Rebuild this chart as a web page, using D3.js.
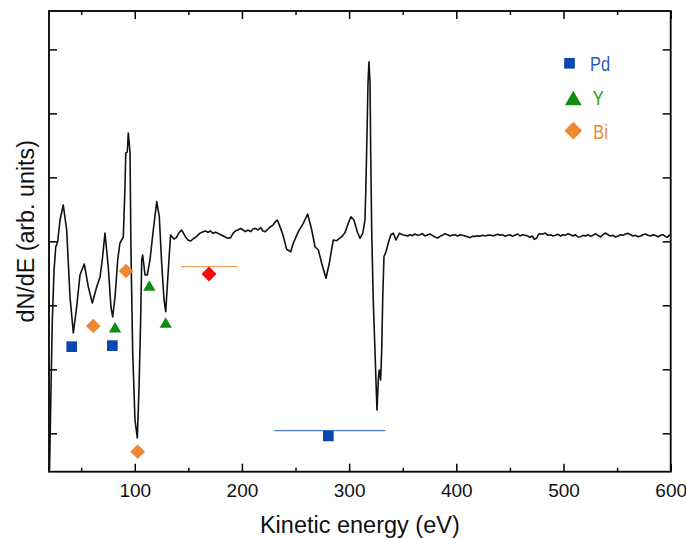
<!DOCTYPE html>
<html>
<head>
<meta charset="utf-8">
<script src="https://cdn.jsdelivr.net/npm/d3@7"></script>
<style>
  html, body { margin: 0; padding: 0; background: #fff; }
  svg { display: block; }
</style>
</head>
<body>
<svg id="chart" width="686" height="538"></svg>
<script>
// ---------------- DATA ----------------
const spectrumE = [
  20.5,21.9,23.1,24.7,26.3,28.1,30.3,33.3,36.5,39.6,42.7,45.8,48.9,52.9,56.7,60.4,64.5,67.6,69.7,72.2,75.3,77.8,79.4,81.6,84.1,86.2,89.3,90.9,91.6,93.0,94.0,95.6,96.5,98.1,100.2,102.4,104.0,105.5,106.5,107.4,109.6,111.7,114.2,117.3,120.5,122.9,125.1,127.3,128.9,130.7,
  132.6,133.5,134.8,136.6,138.8,141.0,143.5,145.0,147.2,149.7,152.2,154.3,157.5,160.6,163.7,165.8,168.3,170.8,173.0,175.2,177.7,180.8,183.9,187.0,189.5,191.7,193.8,196.3,198.8,201.0,203.2,205.6,208.1,210.3,212.5,215.0,217.5,219.6,221.8,224.3,226.8,229.0,231.2,233.0,234.3,236.1,238.3,239.9,
  241.7,245.5,247.9,252.6,257.2,261.3,265.1,268.2,271.3,274.4,278.4,281.5,285.2,288.4,293.1,296.1,299.2,301.7,304.5,307.6,310.1,312.7,314.8,315.7,316.7,317.6,318.5,319.5,320.1,321.1,322.5,324.1,325.1,326.0,327.2,328.1,329.4,330.4,331.3,332.5,334.4,336.5,338.8,341.2,343.7,346.8,350.5,
  352.1,354.6,356.8,359.0,361.4,363.9,366.1,368.3,370.8,373.3,375.4,377.6,380.1,382.6,384.8,387.0,389.4,391.9,394.1,396.3,398.8,401.3,403.4,405.6,408.1,410.6,412.8,414.9,417.4,419.9,422.1,424.3,426.8,429.2,431.4,433.6,436.1,438.6,440.7,442.9,445.4,447.9,450.1,452.3,454.7,457.2,459.4,461.6,464.1,466.6,468.7,470.9,472.8,475.0,476.5,478.1,
  480.9,483.0,485.5,488.0,490.2,492.4,494.8,497.3,499.5,501.7,504.2,506.7,508.8,511.0,513.5,516.0,518.2,520.3,522.8,525.3,527.5,529.7,532.2,534.7,536.8,539.0,541.5,544.0,546.2,548.3,550.8,553.3,555.5,557.7,560.2,562.6,564.8,567.0,569.5,572.0,574.1,576.3,578.8,581.3,583.5,585.7,588.1,590.6,592.8,595.0,596.9,598.4,600
];
const spectrumV = [
  -3.573,-2.277,-1.229,-0.448,-0.088,-0.005,0.334,0.568,0.177,-0.870,-1.432,-1.026,-0.526,-0.354,-0.713,-0.963,-0.713,-0.557,-0.291,0.130,-0.401,-1.026,-1.182,-0.869,-0.291,-0.026,0.068,0.849,1.380,1.396,1.693,1.380,-0.182,-1.745,-2.792,-3.073,-2.276,-1.229,-0.291,-0.213,-0.526,-0.526,-0.291,0.177,0.620,0.385,-0.338,-0.916,-1.099,-0.604,
  -0.109,0.099,0.073,0.037,0.058,0.125,0.177,0.141,0.073,0.021,0.005,0.037,0.073,0.125,0.151,0.162,0.141,0.162,0.125,0.141,0.125,0.099,0.073,0.047,0.058,0.125,0.162,0.177,0.203,0.177,0.151,0.177,0.151,0.193,0.203,0.177,0.214,0.162,0.151,0.193,0.229,0.255,0.307,0.333,0.281,0.203,0.099,-0.005,
  -0.124,-0.162,-0.030,0.151,0.282,0.427,0.177,-0.084,-0.135,-0.343,-0.577,-0.343,0.021,0.010,0.073,0.135,0.282,0.385,0.334,0.151,0.048,0.126,0.334,0.912,1.693,2.474,2.807,2.474,1.427,0.130,-0.916,-1.698,-2.213,-2.635,-2.166,-2.010,-2.166,-1.698,-0.916,-0.240,-0.162,-0.030,0.099,0.126,0.021,0.126,0.099,
  0.094,0.084,0.104,0.089,0.115,0.094,0.104,0.120,0.084,0.104,0.115,0.094,0.068,0.052,0.078,0.094,0.120,0.104,0.084,0.099,0.104,0.084,0.104,0.094,0.084,0.073,0.058,0.078,0.078,0.089,0.078,0.094,0.084,0.094,0.099,0.089,0.094,0.110,0.094,0.104,0.078,0.094,0.104,0.078,0.094,0.115,0.084,0.104,0.094,0.084,0.063,0.084,0.031,0.052,0.104,0.120,
  0.115,0.130,0.094,0.104,0.084,0.094,0.110,0.084,0.104,0.094,0.120,0.104,0.084,0.104,0.068,0.073,0.094,0.084,0.104,0.078,0.094,0.120,0.094,0.068,0.104,0.130,0.104,0.084,0.094,0.068,0.084,0.104,0.094,0.115,0.125,0.104,0.084,0.094,0.073,0.084,0.104,0.115,0.094,0.084,0.104,0.094,0.073,0.094,0.104,0.078,0.063,0.094,0.094
];

// Element markers (Auger transitions)
const pdE = [41.2, 79.1, 280.6];
const pdV = [-1.646, -1.630, -3.041];
const yE  = [81.6, 113.6, 128.9];
const yV  = [-1.370, -0.718, -1.296];
const biE = [61.3, 91.8, 102.7];
const biV = [-1.323, -0.463, -3.287];
const redE = [169.3];
const redV = [-0.510];
// horizontal range bars [start, end, level]
const pdBar = [230.2, 333.7, -2.959];
const biBar = [143.1, 195.7, -0.396];

const xMajorTicks = [100, 200, 300, 400, 500, 600];
const xMinorTicks = [50, 150, 250, 350, 450, 550];
const yTicks = [-3, -2, -1, 0, 1, 2, 3];
const legendLabels = ["Pd", "Y", "Bi"];

// ---------------- CHART ----------------
const W = 686, H = 538;
const m = {left: 49, top: 11, right: 15.3, bottom: 66.3};
const svg = d3.select("#chart");
const x = d3.scaleLinear().domain([20, 600]).range([m.left, W - m.right]);
const y = d3.scaleLinear().domain([-3.6, 3.6]).range([H - m.bottom, m.top]);

const cBlue = "#0c48b4", cBlueLine = "#4f7fd0", cBlueText = "#2a5ac2";
const cGreen = "#0f8c12", cGreenText = "#1e9e1e";
const cOrange = "#ef8832", cOrangeLine = "#f5a35a";
const cRed = "#f50a0a";
const tickFont = "'Liberation Sans', Arial, sans-serif";

const x0 = x.range()[0], x1 = x.range()[1], y0 = y.range()[0], y1 = y.range()[1];

// Axes with inward ticks
function addX(pos, ticks, len, labels) {
  const ax = (pos === "bottom" ? d3.axisBottom(x) : d3.axisTop(x))
    .tickValues(ticks).tickSizeInner(-len).tickSizeOuter(0)
    .tickFormat(labels ? d3.format("d") : "");
  const g = svg.append("g")
    .attr("transform", `translate(0,${pos === "bottom" ? y0 : y1})`).call(ax);
  g.select(".domain").remove();
  g.selectAll(".tick line").attr("stroke", "#000").attr("stroke-width", 1.5);
  g.selectAll(".tick text").attr("font-family", tickFont).attr("font-size", 19)
    .attr("fill", "#111").attr("y", 12).attr("dy", "0.71em");
  return g;
}
addX("bottom", xMajorTicks, 8, true);
addX("bottom", xMinorTicks, 4, false);
addX("top", xMajorTicks, 8, false);
addX("top", xMinorTicks, 4, false);

function addY(pos) {
  const ax = (pos === "left" ? d3.axisLeft(y) : d3.axisRight(y))
    .tickValues(yTicks).tickSizeInner(-8).tickSizeOuter(0).tickFormat("");
  const g = svg.append("g")
    .attr("transform", `translate(${pos === "left" ? x0 : x1},0)`).call(ax);
  g.select(".domain").remove();
  g.selectAll(".tick line").attr("stroke", "#000").attr("stroke-width", 1.5);
}
addY("left");
addY("right");

// frame
svg.append("rect").attr("x", x0).attr("y", y1).attr("width", x1 - x0).attr("height", y0 - y1)
  .attr("fill", "none").attr("stroke", "#000").attr("stroke-width", 1.8);

// spectrum
const spectrum = spectrumE.map((e, i) => [e, spectrumV[i]]);
svg.append("path").datum(spectrum)
  .attr("d", d3.line().x(d => x(d[0])).y(d => y(d[1])))
  .attr("fill", "none").attr("stroke", "#111").attr("stroke-width", 1.6)
  .attr("stroke-linejoin", "round");

// range bars
svg.append("line").attr("x1", x(pdBar[0])).attr("x2", x(pdBar[1]))
  .attr("y1", y(pdBar[2])).attr("y2", y(pdBar[2]))
  .attr("stroke", cBlueLine).attr("stroke-width", 1.3);
svg.append("line").attr("x1", x(biBar[0])).attr("x2", x(biBar[1]))
  .attr("y1", y(biBar[2])).attr("y2", y(biBar[2]))
  .attr("stroke", cOrangeLine).attr("stroke-width", 1.3);

// markers
const sq = d3.symbol().type(d3.symbolSquare).size(114)();
const tri = d3.symbol().type(d3.symbolTriangle).size(66)();
const dia = d3.symbol().type(d3.symbolSquare).size(108)();
const diaRed = d3.symbol().type(d3.symbolSquare).size(114)();

function markers(E, V, path, color, rot) {
  svg.append("g").selectAll("path").data(E.map((e, i) => [e, V[i]])).join("path")
    .attr("d", path)
    .attr("transform", d => `translate(${x(d[0])},${y(d[1])})${rot ? " rotate(45)" : ""}`)
    .attr("fill", color);
}
markers(pdE, pdV, sq, cBlue, false);
markers(yE, yV, tri, cGreen, false);
markers(biE, biV, dia, cOrange, true);
markers(redE, redV, diaRed, cRed, true);

// legend
const legFont = "'Liberation Sans', Arial, sans-serif";
const leg = svg.append("g");
const legItems = [
  {label: legendLabels[0], path: d3.symbol().type(d3.symbolSquare).size(114)(), color: cBlue, text: cBlueText, cx: 569.5, cy: 63.3, rot: false, tx: 590, ty: 70.7},
  {label: legendLabels[1], path: d3.symbol().type(d3.symbolTriangle).size(121)(), color: cGreen, text: cGreenText, cx: 573.3, cy: 100.5, rot: false, tx: 592.7, ty: 105},
  {label: legendLabels[2], path: d3.symbol().type(d3.symbolSquare).size(157)(), color: cOrange, text: cOrange, cx: 573.3, cy: 130.7, rot: true, tx: 593.3, ty: 139.3}
];
legItems.forEach(it => {
  leg.append("path").attr("d", it.path)
    .attr("transform", `translate(${it.cx},${it.cy})${it.rot ? " rotate(45)" : ""}`)
    .attr("fill", it.color);
  leg.append("text").attr("transform", `translate(${it.tx},${it.ty}) scale(0.8,1)`).text(it.label)
    .attr("font-family", legFont).attr("font-size", 20.5).attr("fill", it.text);
});

// axis titles
svg.append("text").attr("x", (x0 + x1) / 2).attr("y", 533.3).attr("text-anchor", "middle")
  .attr("font-family", tickFont).attr("font-size", 23.5).attr("fill", "#111")
  .text("Kinetic energy (eV)");
svg.append("text").attr("transform", "translate(33.5,231.3) rotate(-90)").attr("text-anchor", "middle")
  .attr("font-family", tickFont).attr("font-size", 23.3).attr("fill", "#111")
  .text("dN/dE (arb. units)");
</script>
</body>
</html>
